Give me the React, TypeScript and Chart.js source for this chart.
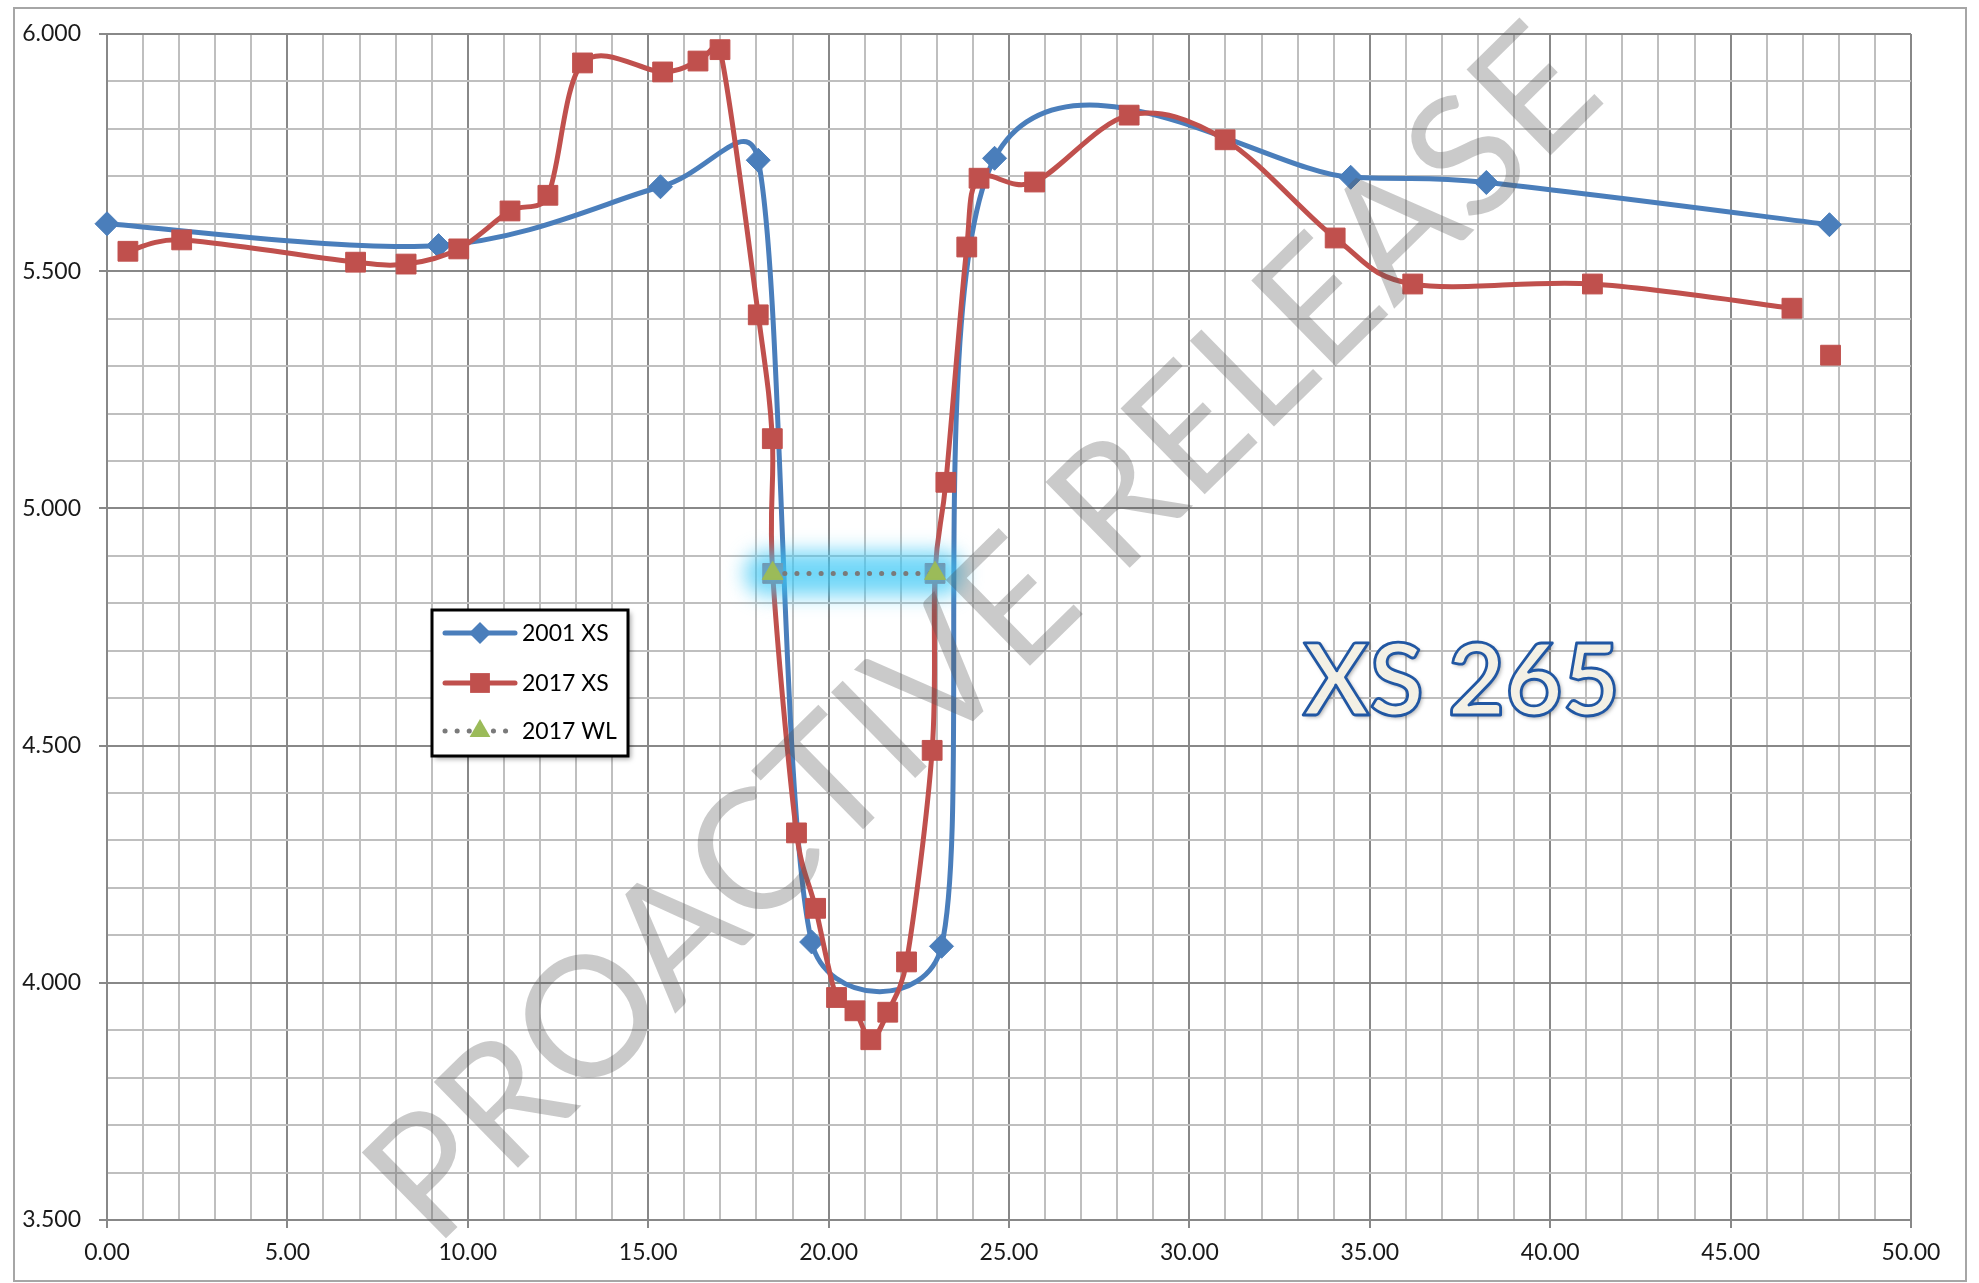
import React, { useEffect, useRef } from 'react';
import { Chart, registerables } from 'chart.js';

Chart.register(...registerables);

// ---------- data ----------
const STATION_2001 = [0, 9.19, 15.34, 18.05, 19.53, 23.13, 24.6, 34.47, 38.23, 47.74];
const ELEV_2001 = [5.6, 5.554, 5.678, 5.734, 4.086, 4.077, 5.738, 5.698, 5.687, 5.598];

const STATION_2017 = [
  0.58, 2.07, 6.89, 8.29, 9.75, 11.17, 12.22, 13.18, 15.4, 16.38, 16.99, 18.05, 18.44, 18.45,
  19.11, 19.64, 20.22, 20.73, 21.17, 21.64, 22.16, 22.87, 22.95, 23.25, 23.83, 24.17, 25.71,
  28.33, 30.99, 34.04, 36.19, 41.17, 46.7, 47.2, 47.77,
];
const ELEV_2017 = [
  5.542, 5.566, 5.519, 5.515, 5.547, 5.627, 5.66, 5.939, 5.92, 5.943, 5.967, 5.408, 5.147, 4.863,
  4.316, 4.157, 3.969, 3.941, 3.88, 3.938, 4.044, 4.49, 4.863, 5.055, 5.551, 5.696, 5.688,
  5.829, 5.777, 5.57, 5.473, 5.473, 5.422, null, 5.323,
];

const STATION_WL = [18.45, 22.95];
const ELEV_WL = [4.863, 4.863];

const SERIES_LABELS = ['2001 XS', '2017 XS', '2017 WL'];
const SERIES_COLORS = ['#4a7ebb', '#c0504d', '#9bbb59'];

const X_MIN = 0;
const X_MAX = 50;
const X_MINOR = 1;
const X_MAJOR = 5;
const Y_MIN = 3.5;
const Y_MAX = 6;
const Y_MINOR = 0.1;
const Y_MAJOR = 0.5;

const SECTION_LABEL = 'XS 265';
const WATERMARK = 'PROACTIVE RELEASE';

const W = 1979;
const H = 1283;

const isMajor = (v: number, step: number) => Math.abs(v / step - Math.round(v / step)) < 1e-6;

const toPoints = (xs: number[], ys: (number | null)[]) => xs.map((x, i) => ({ x, y: ys[i] }));

// Excel-like smoothing: control points at 1/6 of neighbour chord, capped at half segment
const excelSmooth = {
  id: 'excelSmooth',
  beforeDatasetDraw(chart: any, args: any) {
    const ds: any = chart.data.datasets[args.index];
    if (!ds || !ds.excelSmooth) return;
    const meta = args.meta;
    const line = meta.dataset;
    if (!line) return;
    if (typeof line.updateControlPoints === 'function') {
      line.updateControlPoints(chart.chartArea, meta.iScale ? meta.iScale.axis : 'x');
    }
    const runs: any[][] = [];
    let run: any[] = [];
    for (const p of meta.data) {
      if (p.skip || !isFinite(p.x) || !isFinite(p.y)) {
        if (run.length) runs.push(run);
        run = [];
      } else run.push(p);
    }
    if (run.length) runs.push(run);
    const f = 1 / 6;
    for (const r of runs) {
      for (let i = 0; i < r.length; i++) {
        const p = r[i];
        const prev = r[i - 1] || p;
        const next = r[i + 1] || p;
        const tx = next.x - prev.x;
        const ty = next.y - prev.y;
        const d02 = Math.hypot(tx, ty);
        const d01 = Math.hypot(p.x - prev.x, p.y - prev.y);
        const d12 = Math.hypot(next.x - p.x, next.y - p.y);
        let fb = f;
        let ff = f;
        if (d02 > 0) {
          if (d02 * f > d01 / 2) fb = d01 / 2 / d02;
          if (d02 * f > d12 / 2) ff = d12 / 2 / d02;
        }
        p.cp1x = p.x - tx * fb;
        p.cp1y = p.y - ty * fb;
        p.cp2x = p.x + tx * ff;
        p.cp2y = p.y + ty * ff;
      }
    }
    line._path = undefined;
  },
};

// cyan glow behind the water level series
const glowPlugin = {
  id: 'wlGlow',
  beforeDatasetDraw(chart: any, args: any) {
    const ds: any = chart.data.datasets[args.index];
    if (!ds || !ds.glow) return;
    const pts = args.meta.data.filter((p: any) => !p.skip);
    if (pts.length < 2) return;
    const ctx = chart.ctx;
    ctx.save();
    ctx.filter = 'blur(10px)';
    ctx.strokeStyle = 'rgba(60,200,245,0.72)';
    ctx.lineWidth = 44;
    ctx.lineCap = 'round';
    ctx.beginPath();
    ctx.moveTo(pts[0].x - 6, pts[0].y);
    for (let i = 1; i < pts.length; i++) ctx.lineTo(pts[i].x + (i === pts.length - 1 ? 6 : 0), pts[i].y);
    ctx.stroke();
    ctx.restore();
  },
};

function drawMarker(ctx: CanvasRenderingContext2D, style: string, x: number, y: number, r: number, color: string) {
  ctx.save();
  ctx.fillStyle = color;
  ctx.beginPath();
  if (style === 'rectRot') {
    ctx.moveTo(x, y - r);
    ctx.lineTo(x + r, y);
    ctx.lineTo(x, y + r);
    ctx.lineTo(x - r, y);
    ctx.closePath();
  } else if (style === 'rect') {
    const s = r * Math.SQRT1_2;
    ctx.rect(x - s, y - s, 2 * s, 2 * s);
  } else if (style === 'triangle') {
    ctx.moveTo(x, y - r);
    ctx.lineTo(x + r * Math.sin(Math.PI / 3), y + r / 2);
    ctx.lineTo(x - r * Math.sin(Math.PI / 3), y + r / 2);
    ctx.closePath();
  }
  ctx.fill();
  ctx.restore();
}

const framePlugin = {
  id: 'frame',
  beforeDraw(chart: any) {
    const ctx = chart.ctx;
    ctx.save();
    ctx.fillStyle = '#ffffff';
    ctx.fillRect(0, 0, chart.width, chart.height);
    ctx.strokeStyle = '#a6a6a6';
    ctx.lineWidth = 2;
    ctx.strokeRect(14, 8, 1952, 1273);
    ctx.restore();
  },
  afterDraw(chart: any) {
    const ctx: CanvasRenderingContext2D = chart.ctx;
    const dsets: any[] = chart.data.datasets;

    // legend box
    const bx = 432, by = 610, bw = 196, bh = 146;
    ctx.save();
    ctx.shadowColor = 'rgba(0,0,0,0.35)';
    ctx.shadowBlur = 5;
    ctx.shadowOffsetX = 3;
    ctx.shadowOffsetY = 3;
    ctx.fillStyle = '#ffffff';
    ctx.fillRect(bx, by, bw, bh);
    ctx.restore();
    ctx.save();
    ctx.strokeStyle = '#000000';
    ctx.lineWidth = 3;
    ctx.strokeRect(bx, by, bw, bh);
    const rows = [633, 683, 731];
    dsets.forEach((ds, i) => {
      const y = rows[i];
      ctx.save();
      ctx.strokeStyle = ds.borderColor;
      ctx.lineWidth = ds.borderWidth;
      ctx.lineCap = 'round';
      if (ds.borderDash && ds.borderDash.length) ctx.setLineDash(ds.borderDash);
      ctx.beginPath();
      ctx.moveTo(445, y);
      ctx.lineTo(515, y);
      ctx.stroke();
      ctx.restore();
      drawMarker(ctx, ds.pointStyle, 480, y, ds.legendRadius, ds.pointBackgroundColor);
      ctx.fillStyle = '#000000';
      ctx.font = '23px Lato, "Open Sans", sans-serif';
      ctx.textAlign = 'left';
      ctx.textBaseline = 'middle';
      ctx.fillText(ds.label, 522, y + 1);
    });
    ctx.restore();

    // section label
    ctx.save();
    let size = 108;
    ctx.font = `bold ${size}px Lato, "Open Sans", sans-serif`;
    const w0 = ctx.measureText(SECTION_LABEL).width;
    size = (size * 317) / w0;
    ctx.font = `bold ${size}px Lato, "Open Sans", sans-serif`;
    ctx.textAlign = 'left';
    ctx.textBaseline = 'alphabetic';
    ctx.shadowColor = 'rgba(0,0,0,0.35)';
    ctx.shadowBlur = 4;
    ctx.shadowOffsetX = 2;
    ctx.shadowOffsetY = 2;
    ctx.fillStyle = '#f3f0e5';
    ctx.fillText(SECTION_LABEL, 1303, 715);
    ctx.shadowColor = 'transparent';
    ctx.strokeStyle = '#2157a3';
    ctx.lineWidth = 2.8;
    ctx.lineJoin = 'round';
    ctx.strokeText(SECTION_LABEL, 1303, 715);
    ctx.restore();

    // watermark
    ctx.save();
    const x0 = 435, y0 = 1249, x1 = 1609, y1 = 98;
    const len = Math.hypot(x1 - x0, y1 - y0);
    let ws = 180;
    ctx.font = `${ws}px Lato, "Open Sans", sans-serif`;
    const ww = ctx.measureText(WATERMARK).width;
    ws = (ws * len) / ww;
    ctx.font = `${ws}px Lato, "Open Sans", sans-serif`;
    ctx.translate(x0, y0);
    ctx.rotate(Math.atan2(y1 - y0, x1 - x0));
    ctx.fillStyle = 'rgba(85,85,85,0.31)';
    ctx.textAlign = 'left';
    ctx.textBaseline = 'alphabetic';
    ctx.fillText(WATERMARK, 0, 0);
    ctx.restore();
  },
};

const gridColor = (v: number, major: number) => (isMajor(v, major) ? '#888888' : '#bfbfbf');

export default function App() {
  const ref = useRef<HTMLCanvasElement>(null);

  useEffect(() => {
    const canvas = ref.current;
    if (!canvas) return;

    const datasets: any[] = [
      {
        label: SERIES_LABELS[0],
        data: toPoints(STATION_2001, ELEV_2001),
        borderColor: SERIES_COLORS[0],
        backgroundColor: SERIES_COLORS[0],
        borderWidth: 5,
        pointStyle: 'rectRot',
        pointRadius: 12,
        legendRadius: 11,
        pointBackgroundColor: SERIES_COLORS[0],
        pointBorderColor: SERIES_COLORS[0],
        pointBorderWidth: 1,
        tension: 0.4,
        excelSmooth: true,
        clip: false,
        order: 3,
      },
      {
        label: SERIES_LABELS[1],
        data: toPoints(STATION_2017, ELEV_2017),
        borderColor: SERIES_COLORS[1],
        backgroundColor: SERIES_COLORS[1],
        borderWidth: 5,
        pointStyle: 'rect',
        pointRadius: 14,
        legendRadius: 14,
        pointBackgroundColor: SERIES_COLORS[1],
        pointBorderColor: SERIES_COLORS[1],
        pointBorderWidth: 1,
        tension: 0.4,
        excelSmooth: true,
        spanGaps: false,
        clip: false,
        order: 2,
      },
      {
        label: SERIES_LABELS[2],
        data: toPoints(STATION_WL, ELEV_WL),
        borderColor: '#7a7a7a',
        backgroundColor: SERIES_COLORS[2],
        borderWidth: 5,
        borderDash: [0.1, 12],
        borderCapStyle: 'round',
        pointStyle: 'triangle',
        pointRadius: 12,
        legendRadius: 12,
        pointBackgroundColor: SERIES_COLORS[2],
        pointBorderColor: SERIES_COLORS[2],
        pointBorderWidth: 1,
        tension: 0,
        glow: true,
        clip: false,
        order: 1,
      },
    ];

    const tickFont = { family: 'Lato, "Open Sans", sans-serif', size: 23 };

    const chart = new Chart(canvas, {
      type: 'line',
      data: { datasets },
      options: {
        responsive: false,
        animation: false,
        events: [],
        layout: { padding: { left: 14, right: 68, top: 34, bottom: 9 } },
        plugins: { legend: { display: false }, tooltip: { enabled: false } },
        scales: {
          x: {
            type: 'linear',
            min: X_MIN,
            max: X_MAX,
            afterFit: (s: any) => {
              s.height = 54;
            },
            ticks: {
              stepSize: X_MINOR,
              autoSkip: false,
              maxRotation: 0,
              minRotation: 0,
              padding: 11,
              color: '#1a1a1a',
              font: tickFont,
              callback: (v: any) => (isMajor(Number(v), X_MAJOR) ? Number(v).toFixed(2) : ''),
            },
            grid: {
              color: (c: any) => gridColor(c.tick ? c.tick.value : 0, X_MAJOR),
              tickColor: (c: any) => (c.tick && isMajor(c.tick.value, X_MAJOR) ? '#888888' : 'rgba(0,0,0,0)'),
              lineWidth: 2,
              tickLength: 8,
              tickWidth: 2,
            },
            border: { display: true, color: '#888888', width: 2 },
          },
          y: {
            type: 'linear',
            min: Y_MIN,
            max: Y_MAX,
            afterFit: (s: any) => {
              s.width = 93;
            },
            ticks: {
              stepSize: Y_MINOR,
              autoSkip: false,
              padding: 18,
              color: '#1a1a1a',
              font: tickFont,
              callback: (v: any) => (isMajor(Number(v), Y_MAJOR) ? Number(v).toFixed(3) : ''),
            },
            grid: {
              color: (c: any) => gridColor(c.tick ? c.tick.value : 0, Y_MAJOR),
              tickColor: (c: any) => (c.tick && isMajor(c.tick.value, Y_MAJOR) ? '#888888' : 'rgba(0,0,0,0)'),
              lineWidth: 2,
              tickLength: 8,
              tickWidth: 2,
            },
            border: { display: true, color: '#888888', width: 2 },
          },
        },
      } as any,
      plugins: [framePlugin, excelSmooth, glowPlugin],
    });

    let alive = true;
    const fontsToLoad = ['23px Lato', 'bold 100px Lato'];
    Promise.all(fontsToLoad.map((f) => (document as any).fonts.load(f)))
      .then(() => {
        if (alive) chart.update('none');
      })
      .catch(() => {});

    return () => {
      alive = false;
      chart.destroy();
    };
  }, []);

  return (
    <div style={{ position: 'fixed', left: 0, top: 0, width: W, height: H, background: '#ffffff' }}>
      <canvas ref={ref} width={W} height={H} style={{ display: 'block', width: W, height: H }} />
    </div>
  );
}
